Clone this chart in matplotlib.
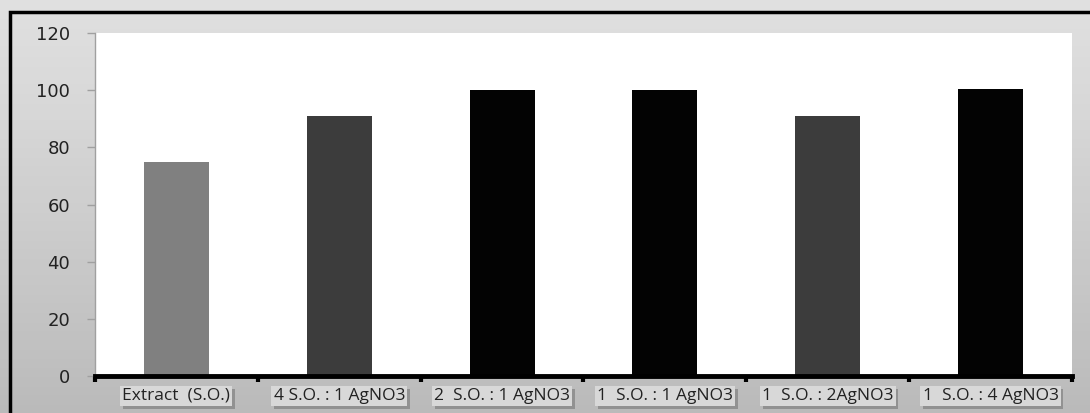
import matplotlib
matplotlib.use("Agg")
import matplotlib.pyplot as plt
import matplotlib.patheffects as pe
import numpy as np
from matplotlib.patches import Rectangle
from matplotlib.transforms import blended_transform_factory

categories = ["Extract  (S.O.)", "4 S.O. : 1 AgNO3", "2  S.O. : 1 AgNO3",
              "1  S.O. : 1 AgNO3", "1  S.O. : 2AgNO3", "1  S.O. : 4 AgNO3"]
values = [75, 91, 100, 100, 91, 100.4]
bar_colors = ["#808080", "#3c3c3c", "#030303", "#030303", "#3c3c3c", "#030303"]
yticks = [0, 20, 40, 60, 80, 100, 120]

fig = plt.figure(figsize=(10.9, 4.13), dpi=100)

# gray gradient backdrop
bg = fig.add_axes([0, 0, 1, 1], zorder=-10)
grad = np.linspace(0, 1, 256).reshape(-1, 1)
bg.imshow(grad, aspect="auto", cmap="Greys", vmin=-1.2, vmax=4.5,
          extent=[0, 1, 0, 1], origin="upper")
bg.set_xlim(0, 1)
bg.set_ylim(0, 1)
bg.axis("off")
bg.add_patch(Rectangle((10 / 1090, -0.1), 1.2, 0.1 + (413 - 12) / 413,
                       fill=False, edgecolor="black", linewidth=2.5,
                       transform=bg.transAxes))

ax = fig.add_axes([95 / 1090, 37 / 413, 977 / 1090, 343 / 413])
ax.set_facecolor("white")
x = np.arange(len(categories))
ax.bar(x, values, width=0.4, color=bar_colors, zorder=2)

ax.set_xlim(-0.5, len(categories) - 0.5)
ax.set_ylim(0, 120)
ax.set_yticks(yticks)
ax.set_yticklabels([str(v) for v in yticks], fontsize=13, color="#222222")
ax.tick_params(axis="y", length=6, width=1, color="#a0a0a0", pad=12)

ax.set_xticks(np.arange(-0.5, len(categories), 1.0))
ax.set_xticklabels([])
ax.tick_params(axis="x", length=4, width=3, color="black", direction="out")

for s in ["top", "right"]:
    ax.spines[s].set_visible(False)
ax.spines["left"].set_color("#a0a0a0")
ax.spines["left"].set_linewidth(1)
ax.spines["bottom"].set_color("black")
ax.spines["bottom"].set_linewidth(3.5)

trans = blended_transform_factory(ax.transData, ax.transAxes)
for xi, lab in zip(x, categories):
    t = ax.text(xi, -0.058, lab, transform=trans, ha="center", va="center",
                fontsize=12.5, family=["Open Sans", "DejaVu Sans"], color="#222222",
                bbox=dict(boxstyle="square,pad=0.12", facecolor="#d8d8d8",
                          edgecolor="none"))
    t.get_bbox_patch().set_path_effects(
        [pe.SimplePatchShadow(offset=(2, -2), shadow_rgbFace="#777777", alpha=0.6),
         pe.Normal()])

fig.savefig("out.png", dpi=100)
